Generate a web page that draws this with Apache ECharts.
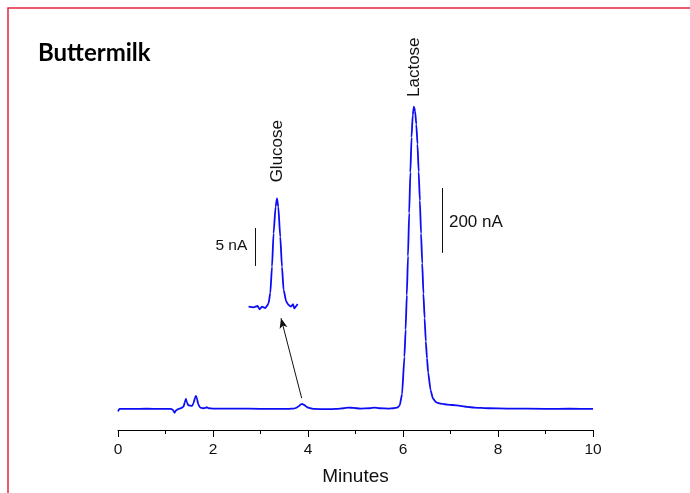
<!DOCTYPE html>
<html>
<head>
<meta charset="utf-8">
<script src="https://cdn.jsdelivr.net/npm/echarts@6/dist/echarts.min.js"></script>
<style>
html,body{margin:0;padding:0;background:#fff;}
#c{width:690px;height:493px;}
</style>
</head>
<body>
<div id="c"></div>
<script>
// ---- data ----
var chartTitle = 'Buttermilk';
var xAxisName = 'Minutes';
var xTicks = [0, 2, 4, 6, 8, 10];

// main chromatogram (time in minutes, response in nA)
var mainTime = [0, 0.03, 0.3, 0.6, 0.9, 1.1, 1.15, 1.19, 1.22, 1.26, 1.32, 1.38, 1.41, 1.43, 1.45, 1.48, 1.52, 1.56, 1.59, 1.62, 1.64, 1.66, 1.69, 1.73, 1.79, 1.84, 1.87, 1.91, 2.0, 2.5, 3.0, 3.4, 3.6, 3.7, 3.75, 3.8, 3.85, 3.88, 3.92, 3.96, 4.0, 4.05, 4.12, 4.4, 4.6, 4.75, 4.85, 4.95, 5.1, 5.3, 5.4, 5.5, 5.7, 5.8, 5.88, 5.93, 5.98, 6.03, 6.055, 6.08, 6.105, 6.13, 6.155, 6.18, 6.205, 6.23, 6.255, 6.28, 6.305, 6.33, 6.355, 6.38, 6.405, 6.43, 6.455, 6.48, 6.505, 6.53, 6.58, 6.63, 6.7, 6.8, 6.93, 7.05, 7.2, 7.35, 7.5, 7.8, 8.2, 9.0, 9.5, 10];
var mainValue = [-8, 0, 0, 0.5, 0, 0, -2, -12, -5, -1, 2, 7, 22, 31, 20, 11, 10, 9, 18, 34, 40, 33, 14, 4, 2, 3, 5, 2, 1, 1, 0, 0, 0, 1, 3, 8, 14, 15, 12, 8, 4, 2, 0, -1, 0, 2, 4, 3, 1, 2, 4, 2, 1, 2, 4, 10, 45, 160, 244, 350, 470, 603, 728, 836, 905, 930, 916, 876, 815, 730, 641, 540, 448, 355, 279, 208, 156, 112, 58, 32, 20, 16, 13, 12, 9, 6, 4, 2, 1, 0, 0.5, 0];

// inset: glucose peak, expanded
var insetTime = [3.272, 3.377, 3.462, 3.504, 3.554, 3.624, 3.659, 3.693, 3.729, 3.765, 3.798, 3.841, 3.870, 3.897, 3.939, 3.975, 4.009, 4.066, 4.114, 4.165, 4.207, 4.234, 4.276, 4.304];
var insetValue = [0.04, -0.04, 0.13, -0.3, 0.04, -0.13, 0.13, 0.5, 1.84, 5.3, 9.7, 13.2, 14.3, 13.2, 9.25, 5.3, 2.24, 0.7, 0.26, 0.04, 0.39, -0.17, 0.13, 0.39];

// annotations
var peakNames = ['Glucose', 'Lactose'];
var bigScale = {label: '200 nA', t: 6.82, from: 480, to: 680};
var smallScale = {label: '5 nA', t: 3.413, from: 5.4, to: 10.4};
var arrowFrom = [3.867, 33];
var arrowTo = [3.432, 279];

// ---- chart ----
var FONT = '"Liberation Sans", Arial, sans-serif';
var chart = echarts.init(document.getElementById('c'), null, {renderer: 'canvas'});

function pairs(a, b) { return a.map(function (t, i) { return [t, b[i]]; }); }

var option = {
  backgroundColor: '#ffffff',
  animation: false,
  grid: [
    {left: 118, width: 475, top: 84, height: 346},
    {left: 248, width: 49.9, top: 193, height: 121.6}
  ],
  xAxis: [
    {
      type: 'value', gridIndex: 0, min: 0, max: 10, interval: 2,
      name: xAxisName, nameLocation: 'middle', nameGap: 37,
      nameTextStyle: {fontFamily: FONT, fontSize: 19, color: '#111'},
      axisLine: {show: true, onZero: false, lineStyle: {color: '#000', width: 1}},
      axisTick: {show: true, length: 7, lineStyle: {color: '#000', width: 1}},
      minorTick: {show: true, splitNumber: 2, length: 4, lineStyle: {color: '#000', width: 1}},
      axisLabel: {fontFamily: FONT, fontSize: 15.5, color: '#111', margin: 12,
        formatter: function (v) { return xTicks.indexOf(v) >= 0 ? String(v) : ''; }},
      splitLine: {show: false}
    },
    {type: 'value', gridIndex: 1, min: 3.26, max: 4.31, show: false}
  ],
  yAxis: [
    {type: 'value', gridIndex: 0, min: -65, max: 1000, show: false},
    {type: 'value', gridIndex: 1, min: -1, max: 15, show: false}
  ],
  series: [
    {
      type: 'line', xAxisIndex: 0, yAxisIndex: 0, data: pairs(mainTime, mainValue),
      showSymbol: false, smooth: 0.15, smoothMonotone: 'x', clip: false,
      lineStyle: {color: '#0c0cf5', width: 1.8},
      markLine: {
        silent: true, symbol: ['none', 'none'], label: {show: false},
        lineStyle: {color: '#111', width: 1, type: 'solid'},
        data: [
          [{coord: [bigScale.t, bigScale.from]}, {coord: [bigScale.t, bigScale.to]}],
          [{coord: arrowFrom}, {coord: arrowTo, symbol: 'arrow', symbolSize: [6, 10]}]
        ]
      }
    },
    {
      type: 'line', xAxisIndex: 1, yAxisIndex: 1, data: pairs(insetTime, insetValue),
      showSymbol: false, smooth: 0.2, smoothMonotone: 'x', clip: false,
      lineStyle: {color: '#0c0cf5', width: 1.8},
      markLine: {
        silent: true, symbol: ['none', 'none'], label: {show: false},
        lineStyle: {color: '#111', width: 1, type: 'solid'},
        data: [
          [{coord: [smallScale.t, smallScale.from]}, {coord: [smallScale.t, smallScale.to]}]
        ]
      }
    }
  ]
};
chart.setOption(option);

var pBig = chart.convertToPixel({gridIndex: 0}, [bigScale.t, (bigScale.from + bigScale.to) / 2]);
var pSmall = chart.convertToPixel({gridIndex: 1}, [smallScale.t, (smallScale.from + smallScale.to) / 2]);
var pGlu = chart.convertToPixel({gridIndex: 1}, [3.87, 16.4]);
var pLac = chart.convertToPixel({gridIndex: 0}, [6.23, 960]);

chart.setOption({
  graphic: [
    {type: 'rect', shape: {x: 8, y: 8, width: 720, height: 520}, style: {fill: 'none', stroke: '#e5253f', lineWidth: 1.5}, silent: true},
    {type: 'text', x: 38, y: 53, style: {text: chartTitle, fontFamily: 'Lato, "Open Sans", sans-serif', fontWeight: 'bold', fontSize: 24, fill: '#000', verticalAlign: 'middle', align: 'left'}},
    {type: 'text', x: pBig[0] + 7, y: pBig[1] + 2, style: {text: bigScale.label, fontFamily: FONT, fontSize: 17, fill: '#111', verticalAlign: 'middle', align: 'left'}},
    {type: 'text', x: pSmall[0] - 8, y: pSmall[1] - 1, style: {text: smallScale.label, fontFamily: FONT, fontSize: 15.5, fill: '#111', verticalAlign: 'middle', align: 'right'}},
    {type: 'text', x: pGlu[0], y: pGlu[1], rotation: Math.PI / 2, style: {text: peakNames[0], fontFamily: FONT, fontSize: 17, fill: '#111', verticalAlign: 'middle', align: 'left'}},
    {type: 'text', x: pLac[0], y: pLac[1], rotation: Math.PI / 2, style: {text: peakNames[1], fontFamily: FONT, fontSize: 17, fill: '#111', verticalAlign: 'middle', align: 'left'}}
  ]
});
</script>
</body>
</html>
